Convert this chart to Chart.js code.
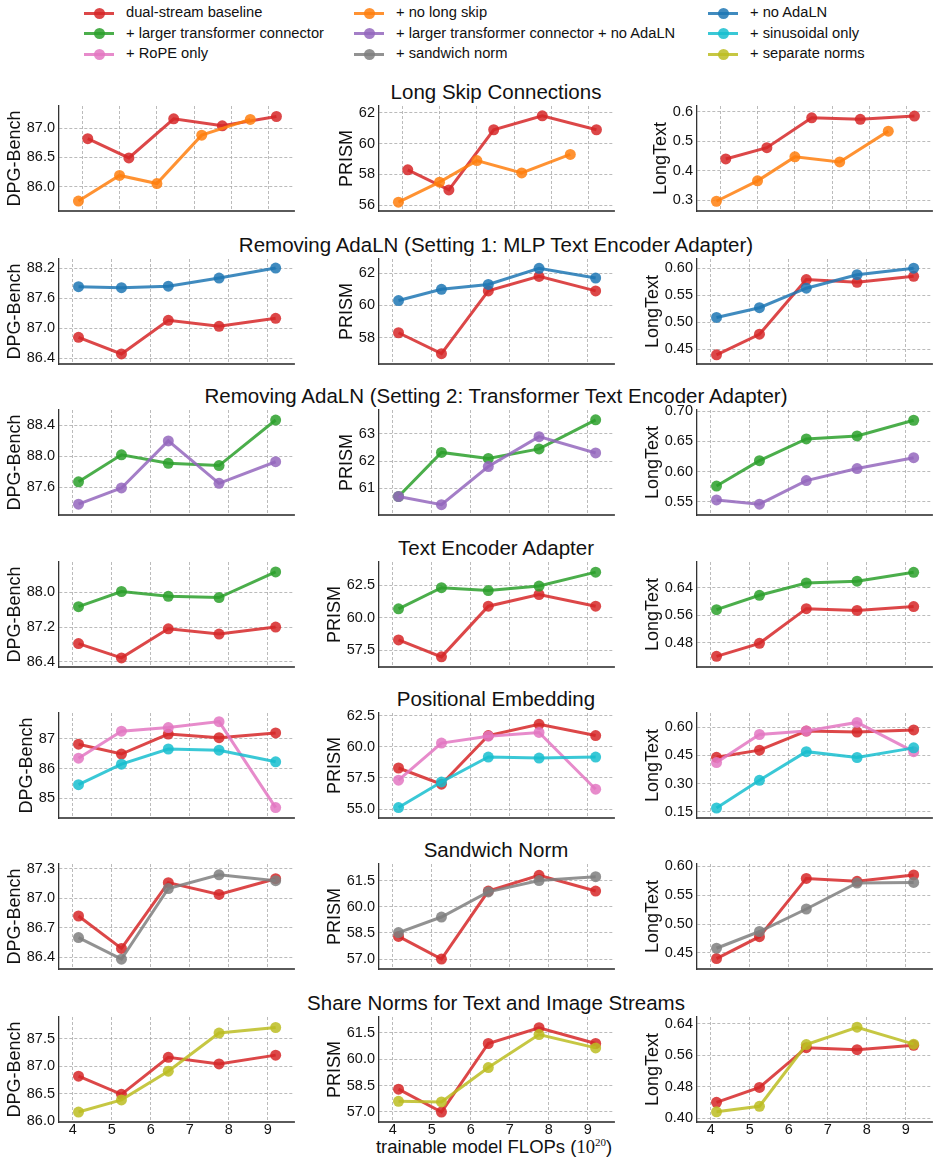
<!DOCTYPE html>
<html>
<head>
<meta charset="utf-8">
<script src="https://cdn.jsdelivr.net/npm/chart.js@4.4.1/dist/chart.umd.min.js"></script>
<style>
  html, body { margin: 0; padding: 0; background: #fff; }
  body { width: 941px; height: 1163px; position: relative; overflow: hidden;
         font-family: "Liberation Sans", Arial, sans-serif; color: #111; }
  canvas { position: absolute; }
  .row-title { position: absolute; left: 496px; white-space: nowrap; font-size: 20.5px;
               transform: translate(-50%, -50%); }
  .legend-item { position: absolute; height: 20px; white-space: nowrap; font-size: 14.7px; }
  .legend-item .line { position: absolute; left: 0; top: 8.5px; width: 30px; height: 3px; }
  .legend-item .dot { position: absolute; left: 9.5px; top: 4.5px; width: 11px; height: 11px; border-radius: 50%; }
  .legend-item .text { position: absolute; left: 42px; top: 1px; }
  #xlabel { position: absolute; left: 494px; top: 1147px; font-size: 18.5px; white-space: nowrap;
            transform: translate(-50%, -50%); }
  #xlabel .math { font-family: "Liberation Serif", serif; }
  #xlabel sup { font-size: 11px; }
</style>
</head>
<body>
<div id="xlabel">trainable model FLOPs (<span class="math">10<sup>20</sup></span>)</div>
<script>
// --- Data ----------------------------------------------------------------

const FLOPS = [4.15, 5.25, 6.45, 7.75, 9.2];
const FLOPS_NO_LONG_SKIP = [3.9, 5.0, 6.0, 7.2, 8.5];
const X_TICKS = [4, 5, 6, 7, 8, 9];

const baselineDpg = [86.82, 86.49, 87.16, 87.04, 87.2];
const baselinePrism = [58.3, 57.0, 60.9, 61.8, 60.9];
const baselineLongText = [0.44, 0.478, 0.579, 0.574, 0.585];

const noLongSkipDpg = [85.75, 86.19, 86.05, 86.88, 87.15];
const noLongSkipPrism = [56.2, 57.5, 58.9, 58.1, 59.3];
const noLongSkipLongText = [0.297, 0.366, 0.447, 0.43, 0.534];

const noAdaLNDpg = [87.83, 87.81, 87.84, 88.0, 88.2];
const noAdaLNPrism = [60.3, 61.0, 61.3, 62.3, 61.7];
const noAdaLNLongText = [0.509, 0.527, 0.563, 0.588, 0.6];

const largerDpg = [87.67, 88.02, 87.91, 87.88, 88.47];
const largerPrism = [60.7, 62.32, 62.1, 62.45, 63.52];
const largerLongText = [0.576, 0.618, 0.654, 0.659, 0.685];

const largerNoAdaLNDpg = [87.38, 87.59, 88.2, 87.65, 87.93];
const largerNoAdaLNPrism = [60.7, 60.4, 61.8, 62.9, 62.3];
const largerNoAdaLNLongText = [0.553, 0.546, 0.585, 0.605, 0.623];

const sinusoidalDpg = [85.46, 86.15, 86.66, 86.62, 86.23];
const sinusoidalPrism = [55.13, 57.18, 59.18, 59.1, 59.18];
const sinusoidalLongText = [0.171, 0.318, 0.47, 0.439, 0.49];

const ropeDpg = [86.35, 87.26, 87.38, 87.58, 84.69];
const ropePrism = [57.32, 60.3, 60.85, 61.15, 56.6];
const ropeLongText = [0.412, 0.561, 0.58, 0.625, 0.47];

const sandwichDpg = [86.6, 86.38, 87.1, 87.24, 87.18];
const sandwichPrism = [58.52, 59.41, 60.85, 61.5, 61.72];
const sandwichLongText = [0.458, 0.487, 0.526, 0.571, 0.572];

const separateDpg = [86.17, 86.39, 86.91, 87.6, 87.7];
const separatePrism = [57.61, 57.57, 59.53, 61.41, 60.65];
const separateLongText = [0.416, 0.43, 0.587, 0.631, 0.588];

const ROW_TITLES = [
  "Long Skip Connections",
  "Removing AdaLN (Setting 1: MLP Text Encoder Adapter)",
  "Removing AdaLN (Setting 2: Transformer Text Encoder Adapter)",
  "Text Encoder Adapter",
  "Positional Embedding",
  "Sandwich Norm",
  "Share Norms for Text and Image Streams",
];

const METRICS = ["DPG-Bench", "PRISM", "LongText"];

// tick labels per row, one list per metric column
const DPG_TICKS = [
  ["86.0", "86.5", "87.0"], ["86.4", "87.0", "87.6", "88.2"], ["87.6", "88.0", "88.4"],
  ["86.4", "87.2", "88.0"], ["85", "86", "87"], ["86.4", "86.7", "87.0", "87.3"],
  ["86.0", "86.5", "87.0", "87.5"],
];
const PRISM_TICKS = [
  ["56", "58", "60", "62"], ["58", "60", "62"], ["61", "62", "63"],
  ["57.5", "60.0", "62.5"], ["55.0", "57.5", "60.0", "62.5"], ["57.0", "58.5", "60.0", "61.5"],
  ["57.0", "58.5", "60.0", "61.5"],
];
const LONGTEXT_TICKS = [
  ["0.3", "0.4", "0.5", "0.6"], ["0.45", "0.50", "0.55", "0.60"], ["0.55", "0.60", "0.65", "0.70"],
  ["0.48", "0.56", "0.64"], ["0.15", "0.30", "0.45", "0.60"], ["0.45", "0.50", "0.55", "0.60"],
  ["0.40", "0.48", "0.56", "0.64"],
];

// axis limits per row
const DPG_RANGE = [[85.58, 87.38], [86.29, 88.38], [87.24, 88.6], [86.28, 88.7], [84.34, 87.87], [86.28, 87.35], [85.99, 87.89]];
const PRISM_RANGE = [[55.63, 62.44], [56.36, 62.88], [60.02, 63.88], [56.22, 64.3], [54.29, 62.71], [56.43, 62.45], [56.43, 62.41]];
const LONGTEXT_RANGE = [[0.264, 0.619], [0.423, 0.617], [0.528, 0.702], [0.409, 0.715], [0.118, 0.675], [0.422, 0.604], [0.39, 0.657]];
const X_RANGE_FIRST_ROW = [3.38, 9.67];
const X_RANGE = [3.65, 9.67];

// --- Series ------------------------------------------------------------

const SERIES = {
  baseline: { label: "dual-stream baseline", color: "214,39,40", x: FLOPS, values: [baselineDpg, baselinePrism, baselineLongText] },
  noLongSkip: { label: "+ no long skip", color: "255,127,14", x: FLOPS_NO_LONG_SKIP, values: [noLongSkipDpg, noLongSkipPrism, noLongSkipLongText] },
  noAdaLN: { label: "+ no AdaLN", color: "31,119,180", x: FLOPS, values: [noAdaLNDpg, noAdaLNPrism, noAdaLNLongText] },
  larger: { label: "+ larger transformer connector", color: "44,160,44", x: FLOPS, values: [largerDpg, largerPrism, largerLongText] },
  largerNoAdaLN: { label: "+ larger transformer connector + no AdaLN", color: "148,103,189", x: FLOPS, values: [largerNoAdaLNDpg, largerNoAdaLNPrism, largerNoAdaLNLongText] },
  sinusoidal: { label: "+ sinusoidal only", color: "23,190,207", x: FLOPS, values: [sinusoidalDpg, sinusoidalPrism, sinusoidalLongText] },
  rope: { label: "+ RoPE only", color: "227,119,194", x: FLOPS, values: [ropeDpg, ropePrism, ropeLongText] },
  sandwich: { label: "+ sandwich norm", color: "127,127,127", x: FLOPS, values: [sandwichDpg, sandwichPrism, sandwichLongText] },
  separate: { label: "+ separate norms", color: "188,189,34", x: FLOPS, values: [separateDpg, separatePrism, separateLongText] },
};

const ROW_MEMBERS = [
  ["baseline", "noLongSkip"],
  ["baseline", "noAdaLN"],
  ["larger", "largerNoAdaLN"],
  ["baseline", "larger"],
  ["baseline", "rope", "sinusoidal"],
  ["baseline", "sandwich"],
  ["baseline", "separate"],
];

const LEGEND_COLUMNS = [
  ["baseline", "larger", "rope"],
  ["noLongSkip", "largerNoAdaLN", "sandwich"],
  ["noAdaLN", "sinusoidal", "separate"],
];

// --- Layout ------------------------------------------------------------

const PLOT_LEFT = [59, 379, 697];
const PLOT_W = 235;
const PLOT_TOP = [106, 259, 410, 562, 713, 864, 1017];
const PLOT_H = 105;
const AXIS_W = [58, 60, 60];
const PAD_T = 14, PAD_R = 6;
const TICK_PAD = 4;
const TICK_FONT = 14.5, TITLE_FONT = 18;
const ALPHA = 0.85;
const GRID = "#aaaaaa";

Chart.defaults.font.family = '"Liberation Sans", Arial, sans-serif';

const measureCtx = document.createElement("canvas").getContext("2d");
measureCtx.font = `${TICK_FONT}px "Liberation Sans"`;
const textWidth = (t) => measureCtx.measureText(t).width;

function addLegend() {
  const xs = [84, 354, 708];
  const ys = [13, 33.5, 54];
  LEGEND_COLUMNS.forEach((col, c) => {
    col.forEach((key, r) => {
      const s = SERIES[key];
      const el = document.createElement("div");
      el.className = "legend-item";
      el.style.left = xs[c] + "px";
      el.style.top = (ys[r] - 10) + "px";
      el.innerHTML = `
        <div class="line" style="background: rgba(${s.color},${ALPHA})"></div>
        <div class="dot" style="background: rgba(${s.color},${ALPHA})"></div>
        <div class="text">${s.label}</div>`;
      document.body.appendChild(el);
    });
  });
}

function addTitles() {
  ROW_TITLES.forEach((t, r) => {
    const el = document.createElement("div");
    el.className = "row-title";
    el.style.top = (PLOT_TOP[r] - 14) + "px";
    el.textContent = t;
    document.body.appendChild(el);
  });
}

function makePanel(row, col) {
  const tickLabels = [DPG_TICKS, PRISM_TICKS, LONGTEXT_TICKS][col][row];
  const [ymin, ymax] = [DPG_RANGE, PRISM_RANGE, LONGTEXT_RANGE][col][row];
  const [xmin, xmax] = row === 0 ? X_RANGE_FIRST_ROW : X_RANGE;
  const isBottom = row === ROW_TITLES.length - 1;
  const yw = AXIS_W[col];
  const xh = isBottom ? 24 : 14;
  const left = PLOT_LEFT[col] - yw;

  const canvas = document.createElement("canvas");
  canvas.width = yw + PLOT_W + PAD_R;
  canvas.height = PAD_T + PLOT_H + xh;
  canvas.style.width = canvas.width + "px";
  canvas.style.height = canvas.height + "px";
  canvas.style.left = left + "px";
  canvas.style.top = (PLOT_TOP[row] - PAD_T) + "px";
  document.body.appendChild(canvas);

  // keep the axis title a fixed gap away from the widest tick label
  const widest = Math.max(...tickLabels.map(textWidth));
  const titleCenter = PLOT_LEFT[col] - TICK_PAD - widest - 12;
  const titlePad = Math.max(0, titleCenter - left - TITLE_FONT * 0.6);

  const members = ROW_MEMBERS[row];
  const datasets = members.map((key, i) => {
    const s = SERIES[key];
    const ys = s.values[col];
    const c = `rgba(${s.color},${ALPHA})`;
    return {
      label: s.label,
      data: s.x.map((x, j) => ({ x, y: ys[j] })),
      borderColor: c,
      backgroundColor: c,
      borderWidth: 3,
      pointRadius: 5.5,
      pointHoverRadius: 5.5,
      pointBorderWidth: 0,
      tension: 0,
      order: -i,
    };
  });

  new Chart(canvas, {
    type: "line",
    data: { datasets },
    options: {
      responsive: false,
      animation: false,
      events: [],
      layout: { padding: { top: PAD_T, right: PAD_R, left: 0, bottom: 0 } },
      plugins: { legend: { display: false }, tooltip: { enabled: false } },
      scales: {
        x: {
          type: "linear",
          min: xmin,
          max: xmax,
          afterBuildTicks: (s) => { s.ticks = X_TICKS.map((v) => ({ value: v })); },
          afterFit: (s) => { s.height = xh; },
          ticks: { display: isBottom, autoSkip: false, maxRotation: 0, padding: 1,
                   font: { size: TICK_FONT, lineHeight: 1.0 }, color: "#111", callback: (v) => String(v) },
          grid: { color: GRID, lineWidth: 0.8, drawTicks: false },
          border: { display: true, color: "#5a5a5a", width: 2, dash: [3, 2] },
        },
        y: {
          type: "linear",
          min: ymin,
          max: ymax,
          afterBuildTicks: (s) => { s.ticks = tickLabels.map((t) => ({ value: parseFloat(t) })); },
          afterFit: (s) => { s.width = yw; },
          ticks: { padding: TICK_PAD, font: { size: TICK_FONT }, color: "#111",
                   callback: (v, i) => tickLabels[i] },
          grid: { color: GRID, lineWidth: 0.8, drawTicks: false },
          border: { display: true, color: "#333", width: 1.3, dash: [3, 2] },
          title: { display: true, text: METRICS[col], font: { size: TITLE_FONT }, color: "#111",
                   padding: { top: titlePad, bottom: 0 } },
        },
      },
    },
  });
}

addLegend();
addTitles();
for (let r = 0; r < ROW_TITLES.length; r++) {
  for (let c = 0; c < METRICS.length; c++) makePanel(r, c);
}
</script>
</body>
</html>
